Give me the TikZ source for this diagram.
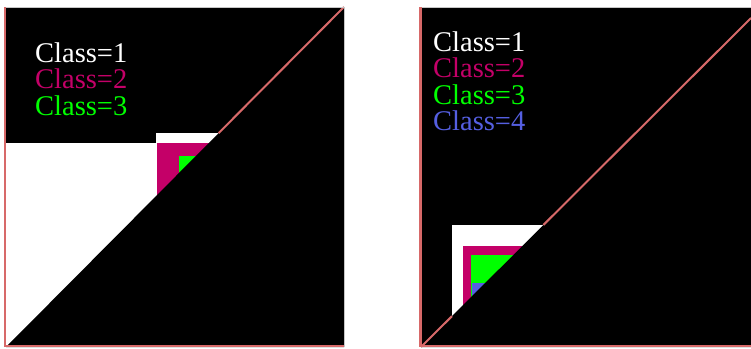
\documentclass[tikz,border=0pt]{standalone}
\usepackage{fontspec}
\setmainfont{Liberation Serif}
\usetikzlibrary{calc}
\definecolor{mag}{RGB}{196,0,104}
\definecolor{grn}{RGB}{0,255,0}
\definecolor{blu}{RGB}{85,95,225}
\definecolor{redl}{RGB}{215,105,105}
\begin{document}
\begin{tikzpicture}[x=1pt,y=-1pt,
  lbl/.style={anchor=base west,inner sep=0pt,font=\fontsize{28.5}{30}\selectfont},
  redline/.style={draw=redl,line width=2pt},
  edgeline/.style={draw=gray!45,line width=0.7pt}]
\useasboundingbox (0,0) rectangle (751,348);
\fill[white] (0,0) rectangle (751,348);
% ---------------- left panel ----------------
\coordinate (LBL) at (6,347);
\coordinate (LTR) at (344,7);
\coordinate (LBR) at (344,347);
\fill[black] (6,7) rectangle (LBR);
\fill[white] (6,143) rectangle (LBR);
\fill[white] (156,133) rectangle (260,143);
\fill[mag] (157,143) rectangle (260,347);
\fill[grn] (179,156) rectangle (260,347);
\fill[black] (LBL) -- (LTR) -- (LBR) -- cycle;
\coordinate (LD) at ($(LBL)!0.629!(LTR)$);
\draw[redline] (LD) -- (LTR);
\draw[edgeline] (6,7) -- (LTR) -- (LBR);
\draw[redl,line width=2.5pt] (5,7) -- (5,347);
\draw[redl,line width=2pt] (6,346) -- (344,346);
\node[lbl,text=white] (l1) at (35,62) {Class=1};
\node[lbl,text=mag] (l2) at (35,88) {Class=2};
\node[lbl,text=grn] (l3) at (35,115) {Class=3};
% ---------------- right panel ----------------
\coordinate (RBL) at (421,347);
\coordinate (RTR) at (751,18);
\coordinate (RBR) at (751,347);
\fill[black] (421,7) rectangle (RBR);
\fill[white] (452,225) rectangle (RBR);
\fill[mag] (463,246) rectangle (RBR);
\fill[grn] (471,255) rectangle (RBR);
\fill[blu] (472,283) rectangle (RBR);
\fill[black] (RBL) -- (RTR) -- (RBR) -- cycle;
\coordinate (RD1) at ($(RBL)!0.094!(RTR)$);
\coordinate (RD2) at ($(RBL)!0.371!(RTR)$);
\draw[redline] (RBL) -- (RD1);
\draw[redline] (RD2) -- (RTR);
\draw[edgeline] (421,7) -- (751,7);
\draw[redl,line width=2.5pt] (420.5,7) -- (420.5,347);
\draw[redl,line width=2pt] (421,346) -- (751,346);
\node[lbl,text=white] (r1) at (433,51) {Class=1};
\node[lbl,text=mag] (r2) at (433,77) {Class=2};
\node[lbl,text=grn] (r3) at (433,104) {Class=3};
\node[lbl,text=blu] (r4) at (433,130) {Class=4};
\end{tikzpicture}
\end{document}
